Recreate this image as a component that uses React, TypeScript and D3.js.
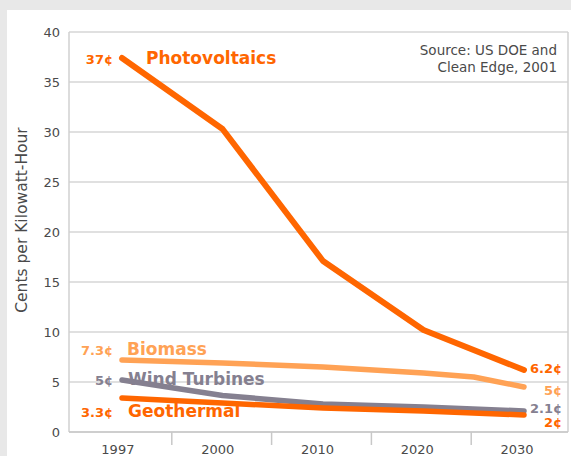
import React from "react";
import * as d3 from "d3";

const years = [1997, 2000, 2010, 2020, 2030];
const yTicks = [0, 5, 10, 15, 20, 25, 30, 35, 40];

const photovoltaics = [
  { year: 1997, value: 37.4 },
  { year: 2000, value: 30.3 },
  { year: 2010, value: 17.1 },
  { year: 2020, value: 10.2 },
  { year: 2030, value: 6.2 },
];
const biomass = [
  { year: 1997, value: 7.2 },
  { year: 2000, value: 6.9 },
  { year: 2010, value: 6.5 },
  { year: 2020, value: 5.9 },
  { year: 2025, value: 5.5 },
  { year: 2030, value: 4.5 },
];
const windTurbines = [
  { year: 1997, value: 5.2 },
  { year: 2000, value: 3.65 },
  { year: 2010, value: 2.8 },
  { year: 2020, value: 2.5 },
  { year: 2030, value: 2.1 },
];
const geothermal = [
  { year: 1997, value: 3.4 },
  { year: 2000, value: 2.9 },
  { year: 2010, value: 2.4 },
  { year: 2020, value: 2.1 },
  { year: 2030, value: 1.7 },
];

const seriesNames = ["Photovoltaics", "Biomass", "Wind Turbines", "Geothermal"];
const startLabels = ["37¢", "7.3¢", "5¢", "3.3¢"];
const endLabels = ["6.2¢", "5¢", "2.1¢", "2¢"];
const sourceLines = ["Source: US DOE and", "Clean Edge, 2001"];
const yTitle = "Cents per Kilowatt-Hour";

const ORANGE = "#ff6600";
const LIGHT = "#ffa255";
const GRAY = "#858090";

export default function App() {
  const W = 571, H = 456;
  const left = 69, right = 568, top = 32, bottom = 432;
  const y = d3.scaleLinear().domain([0, 40]).range([bottom, top]);
  const band = d3.scaleBand<number>().domain(years).range([72, 571]);
  const lineX = d3
    .scaleLinear()
    .domain(years)
    .range(years.map((_, i) => 122 + i * 100.5));
  const line = d3
    .line<{ year: number; value: number }>()
    .x((d) => lineX(d.year))
    .y((d) => y(d.value));

  const series = [
    { data: biomass, color: LIGHT, w: 5.5 },
    { data: windTurbines, color: GRAY, w: 5.5 },
    { data: geothermal, color: ORANGE, w: 5.5 },
    { data: photovoltaics, color: ORANGE, w: 6 },
  ];

  const font = "'DejaVu Sans', Verdana, sans-serif";
  const nameColors = [ORANGE, LIGHT, GRAY, ORANGE];
  const startBaseline = [64, 355, 385, 417];
  const nameBaseline = [64, 355, 385, 417];
  const nameX = [146, 127, 128, 128];
  const endBaseline = [373, 395, 413, 427];

  return (
    <svg
      width={W}
      height={H}
      style={{ position: "absolute", left: 0, top: 0, fontFamily: font }}
    >
      <rect x={0} y={0} width={W} height={H} fill="#e8e8e8" />
      <rect x={7} y={10} width={W - 7} height={H - 10} fill="#ffffff" />
      {yTicks.map((t) => (
        <g key={t}>
          <line x1={left} x2={right} y1={y(t)} y2={y(t)} stroke="#d6d6d6" strokeWidth={1.5} />
          <text x={60} y={y(t)} dy="0.35em" textAnchor="end" fontSize={13} fill="#4a4a4a">
            {t}
          </text>
        </g>
      ))}
      <line x1={left} x2={left} y1={top} y2={bottom} stroke="#d0d0d0" strokeWidth={1.5} />
      <line x1={right} x2={right} y1={top} y2={bottom} stroke="#d0d0d0" strokeWidth={1.5} />
      <line x1={left} x2={right} y1={bottom} y2={bottom} stroke="#c8c8c8" strokeWidth={1.5} />
      {years.slice(1).map((yr) => (
        <line
          key={yr}
          x1={band(yr)!}
          x2={band(yr)!}
          y1={bottom}
          y2={bottom + 13}
          stroke="#c8c8c8"
          strokeWidth={1.5}
        />
      ))}
      {years.map((yr) => (
        <text
          key={yr}
          x={band(yr)! + band.bandwidth() / 2 - 4}
          y={454}
          textAnchor="middle"
          fontSize={13}
          fill="#4a4a4a"
        >
          {yr}
        </text>
      ))}
      <text
        transform={`translate(27, 220) rotate(-90)`}
        textAnchor="middle"
        fontSize={15.5}
        fill="#4a4a4a"
      >
        {yTitle}
      </text>
      {sourceLines.map((s, i) => (
        <text key={s} x={557} y={55 + i * 17} textAnchor="end" fontSize={13.5} fill="#4a4a4a">
          {s}
        </text>
      ))}
      {series.map((s, i) => (
        <path
          key={i}
          d={line(s.data)!}
          fill="none"
          stroke={s.color}
          strokeWidth={s.w}
          strokeLinecap="round"
          strokeLinejoin="round"
        />
      ))}
      {seriesNames.map((n, i) => (
        <g key={n}>
          <text x={nameX[i]} y={nameBaseline[i]} fontSize={17} fontWeight="bold" fill={nameColors[i]}>
            {n}
          </text>
          <text x={113} y={startBaseline[i]} textAnchor="end" fontSize={13} fontWeight="bold" fill={nameColors[i]}>
            {startLabels[i]}
          </text>
          <text x={562} y={endBaseline[i]} textAnchor="end" fontSize={13} fontWeight="bold" fill={nameColors[i]}>
            {endLabels[i]}
          </text>
        </g>
      ))}
    </svg>
  );
}
